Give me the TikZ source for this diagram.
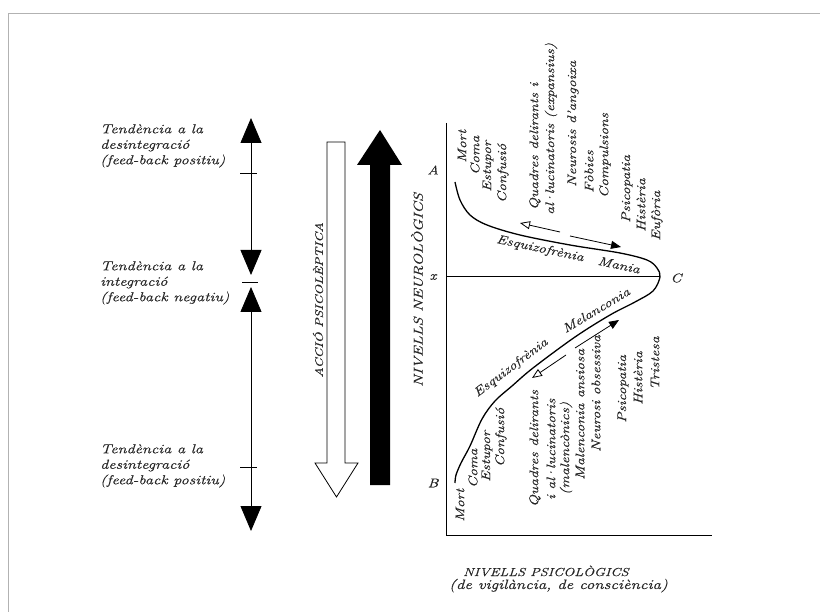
\documentclass[tikz,border=0pt]{standalone}
\usepackage{fontspec}
\setmainfont{Latin Modern Roman}[FakeStretch=1.25, FakeBold=0.4]
\usetikzlibrary{arrows.meta}
\newcommand{\ldot}{\kern-0.12em·\kern-0.12em}
\begin{document}
\begin{tikzpicture}[x=1pt,y=-1pt,
  lab/.style={font=\fontsize{12.5}{14}\selectfont\itshape, inner sep=0pt, text=black!85},
  vlab/.style={lab, rotate=90, anchor=west},
  side/.style={font=\fontsize{13}{15.5}\selectfont\itshape, align=left, anchor=north west, inner sep=0pt, text=black!85},
  curvetip/.style={line width=0.8pt},
  tick/.style={line width=0.8pt}
]
\useasboundingbox (0,0) rectangle (820,612);
% page frame
\draw[black!30, line width=0.8pt] (8,612) -- (8,13) -- (820,13);

% left labels
\node[side] (l1) at (100,124) {Tendència a la\\desintegració\\(feed-back positiu)};
\node[side] (l2) at (100,261) {Tendència a la\\integració\\(feed-back negatiu)};
\node[side] (l3) at (100,444) {Tendència a la\\desintegració\\(feed-back positiu)};

% left double arrows
\coordinate (a1) at (251,118);
\coordinate (a2) at (251,275);
\coordinate (a3) at (251,287);
\coordinate (a4) at (251,531);
\draw[line width=0.8pt, {Triangle[length=25pt,width=21pt]}-{Triangle[length=25pt,width=21pt]}] (a1) -- (a2);
\draw[line width=0.8pt, {Triangle[length=25pt,width=21pt]}-{Triangle[length=25pt,width=21pt]}] (a3) -- (a4);
\draw[tick] (240,173) -- (257,173);
\draw[tick] (242,282) -- (258,282);
\draw[tick] (240,467) -- (257,467);

% hollow arrow (down)
\draw[line width=0.8pt, fill=white] (327,142) -- (345,142) -- (345,463) -- (358,463) -- (336.5,497) -- (315,463) -- (327,463) -- cycle;
\node[lab, rotate=90, font=\fontsize{11}{13}\selectfont\itshape] (acc) at (318,300) {ACCIÓ PSICOLÈPTICA};

% black arrow (up)
\fill[black] (370,485) -- (390,485) -- (390,165) -- (402,165) -- (380,130) -- (357,165) -- (370,165) -- cycle;

\node[lab, rotate=90, font=\fontsize{13}{15}\selectfont\itshape] (nn) at (417,290) {NIVELLS NEUROLÒGICS};

% axes
\coordinate (ytop) at (446,123);
\coordinate (orig) at (446,535);
\coordinate (xend) at (712,535);
\coordinate (xl) at (446,277);
\coordinate (cpt) at (660,277);
\draw[line width=1pt] (ytop) -- (orig) -- (xend);
\draw[line width=1pt] (xl) -- (cpt);

\node[lab] (A) at (433,170) {A};
\node[lab] (X) at (433,277) {x};
\node[lab] (C) at (676,278) {C};
\node[lab] (B) at (433,483) {B};

% curve
\draw[line width=1.3pt] plot[smooth, tension=0.55] coordinates {(455,182) (460,200) (470,215) (487,225) (520,235) (570,245) (620,253) (647,260) (657,268) (660,277) (653,291) (635,302) (610,315) (575,337) (533,368) (512,386) (495,401) (482,419) (470,446) (461,463) (456,475) (455,483)};

% arrows along curve
\coordinate (u1) at (560,232); \coordinate (u1t) at (520,223);
\coordinate (u2) at (570,236); \coordinate (u2t) at (621,247);
\coordinate (d1) at (575,348); \coordinate (d1t) at (619,320);
\coordinate (d2) at (566,355); \coordinate (d2t) at (532,378);
\draw[curvetip, -{Triangle[open,length=10pt,width=8pt]}] (u1) -- (u1t);
\draw[curvetip, -{Triangle[length=10pt,width=8pt]}] (u2) -- (u2t);
\draw[curvetip, -{Triangle[length=10pt,width=8pt]}] (d1) -- (d1t);
\draw[curvetip, -{Triangle[open,length=10pt,width=8pt]}] (d2) -- (d2t);

\node[lab, rotate=-12] (e1) at (540,249) {Esquizofrènia};
\node[lab, rotate=-12] (m1) at (619,265) {Mania};
\node[lab, rotate=37] (e2) at (511,368) {Esquizofrènia};
\node[lab, rotate=31] (m2) at (596,310) {Melanconia};

% top group
\node[vlab] (t1) at (462,163) {Mort};
\node[vlab] (t2) at (475,175) {Coma};
\node[vlab] (t3) at (488,192) {Estupor};
\node[vlab] (t4) at (503,203) {Confusió};
\node[vlab] (t5) at (535,210) {Quadres delirants i};
\node[vlab] (t6) at (551,215) {al\ldot lucinatoris (expansius)};
\node[vlab] (t7) at (573,187) {Neurosis d'angoixa};
\node[vlab] (t8) at (589,193) {Fòbies};
\node[vlab] (t9) at (605,198) {Compulsions};
\node[vlab] (t10) at (627,223) {Psicopatia};
\node[vlab] (t11) at (641,232) {Histèria};
\node[vlab] (t12) at (657,241) {Eufòria};

% bottom group
\node[vlab] (b1) at (460,522) {Mort};
\node[vlab] (b2) at (473,488) {Coma};
\node[vlab] (b3) at (487,482) {Estupor};
\node[vlab] (b4) at (501,467) {Confusió};
\node[vlab] (b5) at (535,507) {Quadres delirants};
\node[vlab] (b6) at (551,500) {i al\ldot lucinatoris};
\node[vlab] (b7) at (566,495) {(malencònics)};
\node[vlab] (b8) at (580,480) {Malenconia ansiosa};
\node[vlab] (b9) at (596,452) {Neurosi obsessiva};
\node[vlab] (b10) at (623,423) {Psicopatia};
\node[vlab] (b11) at (638,405) {Histèria};
\node[vlab] (b12) at (655,390) {Tristesa};

% bottom caption
\node[lab, anchor=base west, font=\fontsize{11.6}{12}\selectfont\itshape] (cap1) at (463,576) {NIVELLS PSICOLÒGICS};
\node[lab, anchor=base west, font=\fontsize{13.5}{12}\selectfont\itshape] (cap2) at (449,589) {(de vigilància, de consciència)};
\end{tikzpicture}
\end{document}
